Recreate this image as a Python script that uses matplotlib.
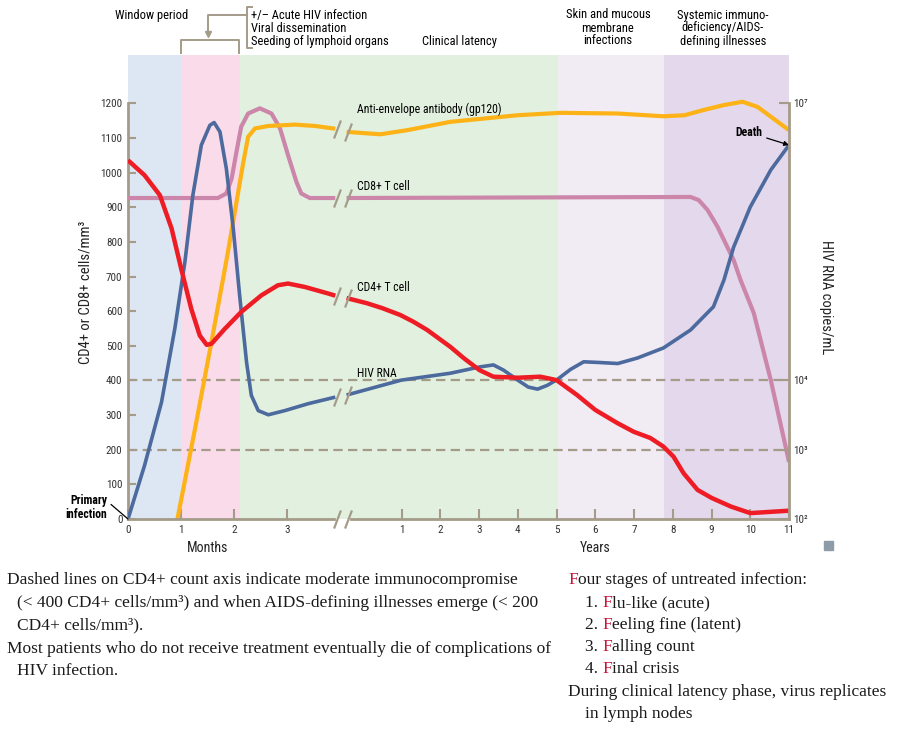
import numpy as np
import matplotlib
matplotlib.use("Agg")
import matplotlib.pyplot as plt
from matplotlib.patches import Rectangle
from matplotlib.lines import Line2D

W, H = 903, 732

# stage shading edges: first two in months, the rest in years
stage_months = [0, 1, 2.1]
stage_years = [5.03, 7.78, 11]
stage_colors = ["#dde6f3", "#f9dbea", "#e2f1df", "#f1ebf4", "#e3d8ec"]

# CD4+ T cell (cells/mm3)
cd4_m = [0, 0.31, 0.6, 0.82, 1.0, 1.19, 1.35, 1.48, 1.57, 1.82, 2.13, 2.51, 2.82, 3.01, 3.33, 3.77, 3.9]
cd4_m_val = [1036, 993, 935, 839, 723, 607, 530, 503, 506, 549, 598, 646, 675, 680, 670, 651, 645]
cd4_y = [-0.42, 0.11, 0.5, 0.97, 1.3, 1.66, 2.26, 2.6, 3.01, 3.37, 4.0, 4.58, 4.84, 5.0, 5.53, 6.0,
         6.57, 6.99, 7.42, 7.76, 8.02, 8.28, 8.64, 9.0, 9.5, 10.0, 11.0]
cd4_y_val = [638, 623, 609, 589, 570, 546, 497, 465, 430, 411, 408, 411, 405, 401, 358, 315,
             277, 252, 234, 209, 180, 132, 84, 61, 36, 17, 24]

# HIV RNA (drawn on the left scale)
rna_m = [0, 0.31, 0.63, 0.88, 1.07, 1.22, 1.38, 1.54, 1.62, 1.73, 1.85, 1.98, 2.1, 2.23, 2.32, 2.45, 2.64, 2.95, 3.39, 3.9]
rna_m_val = [0, 154, 337, 549, 742, 935, 1080, 1137, 1145, 1118, 1012, 839, 646, 453, 357, 313, 301, 313, 333, 352]
rna_y = [-0.42, 0.99, 2.26, 3.01, 3.37, 3.63, 4.0, 4.27, 4.51, 4.76, 5.02, 5.36, 5.7, 6.1, 6.58,
         7.09, 7.76, 8.46, 9.05, 9.32, 9.57, 10.0, 10.53, 11.0]
rna_y_val = [358, 401, 421, 439, 445, 430, 401, 381, 375, 386, 403, 432, 454, 452, 449,
             465, 494, 546, 613, 690, 785, 901, 1008, 1080]

# Anti-envelope antibody (gp120)
ab_m = [0.93, 1.26, 1.57, 1.88, 2.17, 2.26, 2.39, 2.64, 3.14, 3.52, 3.9]
ab_m_val = [0, 260, 511, 771, 1031, 1104, 1128, 1135, 1139, 1135, 1127]
ab_y = [-0.42, 0.45, 1.15, 2.26, 3.99, 5.1, 6.58, 7.76, 8.3, 8.79, 9.3, 9.8, 10.19, 11.0]
ab_y_val = [1118, 1111, 1123, 1147, 1166, 1173, 1171, 1163, 1166, 1181, 1195, 1205, 1190, 1123]

# CD8+ T cell
cd8_m = [0, 1.69, 1.85, 1.95, 2.04, 2.13, 2.26, 2.48, 2.7, 2.86, 3.01, 3.17, 3.26, 3.42, 3.9]
cd8_m_val = [927, 927, 940, 983, 1060, 1133, 1171, 1186, 1171, 1128, 1051, 973, 940, 927, 927]
cd8_y = [-0.42, 8.46, 8.67, 8.9, 9.16, 9.57, 9.75, 10.09, 10.53, 11.0]
cd8_y_val = [927, 930, 921, 892, 843, 748, 690, 595, 401, 165]

month_ticks = [0, 1, 2, 3]
year_ticks = list(range(1, 12))
left_ticks = list(range(0, 1300, 100))
dash_levels = [400, 200]
rna_tick_pos = [1200, 400, 200, 0]
rna_tick_labels = ["10\u2077", "10\u2074", "10\u00b3", "10\u00b2"]

# x scale: months on the left, years (compressed) after the break
YEAR0, YEAR_W = 4.418, 0.7288
BREAK_L, BREAK_R = 3.93, 4.14


def pos_m(m):
    return np.asarray(m, dtype=float)


def pos_y(y):
    return YEAR0 + YEAR_W * np.asarray(y, dtype=float)


def fx(px):
    return px / W


def fy(py):
    return 1 - py / H


taupe = "#a59b89"
SERIF = ["Liberation Serif", "DejaVu Serif"]
plt.rcParams["font.family"] = ["Roboto Condensed", "DejaVu Sans"]
plt.rcParams["font.stretch"] = "condensed"

fig = plt.figure(figsize=(W / 100, H / 100), dpi=100)
ax = fig.add_axes([fx(128), fy(519), fx(789) - fx(128), (519 - 55) / H])
xmax = float(pos_y(11))
ax.set_xlim(0, xmax)
ax.set_ylim(0, 1340)

# background stages
edges = list(pos_m(stage_months)) + list(pos_y(stage_years))
for i, c in enumerate(stage_colors):
    ax.axvspan(edges[i], edges[i + 1], color=c, lw=0, zorder=0)

for lvl in dash_levels:
    ax.axhline(lvl, color=taupe, lw=1.6, dashes=(4.2, 2.4), zorder=1)

slash = [(-0.38, -1), (0.38, 1)]
curves = [
    (cd8_m, cd8_m_val, cd8_y, cd8_y_val, "#cc86aa", 3.0),
    (ab_m, ab_m_val, ab_y, ab_y_val, "#fdb317", 3.0),
    (rna_m, rna_m_val, rna_y, rna_y_val, "#4c6a9d", 2.6),
    (cd4_m, cd4_m_val, cd4_y, cd4_y_val, "#ee1c25", 3.2),
]
for i, (xm, vm, xy, vy, col, lw) in enumerate(curves):
    ax.plot(pos_m(xm), vm, color=col, lw=lw, solid_capstyle="butt",
            solid_joinstyle="round", zorder=3 + i)
    ax.plot(pos_y(xy), vy, color=col, lw=lw, solid_capstyle="butt",
            solid_joinstyle="round", zorder=3 + i)
    ax.plot([BREAK_L, BREAK_R], [vm[-1], vy[0]], ls="none", marker=slash,
            ms=13, mec=taupe, mew=1.6, zorder=8)

# axes frame
for s in ["top", "bottom", "right"]:
    ax.spines[s].set_visible(False)
ax.spines["left"].set_bounds(0, 1200)
ax.spines["left"].set_color(taupe)
ax.spines["left"].set_linewidth(2)
ax.plot([0, BREAK_L - 0.05], [0, 0], color=taupe, lw=2, clip_on=False, zorder=9)
ax.plot([BREAK_R + 0.05, xmax], [0, 0], color=taupe, lw=2, clip_on=False, zorder=9)
ax.plot([BREAK_L, BREAK_R], [0, 0], ls="none", marker=slash, ms=13, mec=taupe,
        mew=1.6, clip_on=False, zorder=9)

ax.set_yticks(left_ticks)
ax.tick_params(axis="y", direction="in", length=6, width=1.5, color=taupe,
               labelsize=8, labelcolor="#333333", pad=4)
xt = list(pos_m(month_ticks)) + list(pos_y(year_ticks))
ax.set_xticks(xt)
ax.set_xticklabels([str(v) for v in month_ticks] + [str(v) for v in year_ticks])
ax.tick_params(axis="x", direction="in", length=7, width=1.5, color=taupe,
               labelsize=8, labelcolor="#333333", pad=4)

ax2 = ax.twinx()
ax2.set_ylim(ax.get_ylim())
for s in ["top", "bottom", "left"]:
    ax2.spines[s].set_visible(False)
ax2.spines["right"].set_bounds(0, 1200)
ax2.spines["right"].set_color(taupe)
ax2.spines["right"].set_linewidth(2)
ax2.set_yticks(rna_tick_pos)
ax2.set_yticklabels(rna_tick_labels)
ax2.tick_params(axis="y", direction="in", length=7, width=1.5, color=taupe,
                labelsize=8, labelcolor="#333333", pad=3)

# curve labels
lab_x = pos_y(-0.15)
ax.text(lab_x, 1184, "Anti-envelope antibody (gp120)", fontsize=8.5, va="center", zorder=10)
ax.text(lab_x, 959, "CD8+ T cell", fontsize=8.5, va="center", zorder=10)
ax.text(lab_x, 668, "CD4+ T cell", fontsize=8.5, va="center", zorder=10)
ax.text(lab_x, 420, "HIV RNA", fontsize=8.5, va="center", zorder=10)

ax.annotate("Death", xy=(xmax, rna_y_val[-1]), xytext=(-19, 9),
            textcoords="offset points", ha="right", va="center", fontsize=8.5,
            fontweight="bold", annotation_clip=False, zorder=10,
            arrowprops=dict(arrowstyle="-|>", color="black", lw=0.9,
                            mutation_scale=7, shrinkA=1, shrinkB=0))
ax.annotate("Primary\ninfection", xy=(0, 0), xytext=(-15, 8),
            textcoords="offset points", ha="right", va="center", fontsize=8.5,
            fontweight="bold", multialignment="right", annotation_clip=False,
            linespacing=1.1, zorder=10,
            arrowprops=dict(arrowstyle="-", color="black", lw=0.9,
                            relpos=(1, 0.75), shrinkA=1, shrinkB=0))

# axis titles
fig.text(fx(86), fy(292), "CD4+ or CD8+ cells/mm\u00b3", rotation=90, fontsize=10.5,
         ha="center", va="center", color="#222222")
fig.text(fx(826), fy(297), "HIV RNA copies/mL", rotation=270, fontsize=10.5,
         ha="center", va="center", color="#222222")
fig.text(fx(208), fy(548), "Months", fontsize=10, ha="center", va="center", color="#222222")
fig.text(fx(595), fy(548), "Years", fontsize=10, ha="center", va="center", color="#222222")

# top stage labels
fig.text(fx(152), fy(15), "Window period", fontsize=9, ha="center", va="center")
fig.text(fx(251), fy(28), "+/\u2013 Acute HIV infection\nViral dissemination\nSeeding of lymphoid organs",
         fontsize=9, ha="left", va="center", linespacing=1.0)
fig.text(fx(460), fy(42), "Clinical latency", fontsize=9, ha="center", va="center")
fig.text(fx(608), fy(28), "Skin and mucous\nmembrane\ninfections", fontsize=9,
         ha="center", va="center", linespacing=1.0)
fig.text(fx(723), fy(28), "Systemic immuno-\ndeficiency/AIDS-\ndefining illnesses", fontsize=9,
         ha="center", va="center", linespacing=1.0)

# brackets at the top
lk = dict(color=taupe, lw=1.4, transform=fig.transFigure)
fig.add_artist(Line2D([fx(181), fx(181), fx(239), fx(239)], [fy(53), fy(39.5), fy(39.5), fy(53)], **lk))
fig.add_artist(Line2D([fx(252), fx(247), fx(247), fx(252)], [fy(7), fy(7), fy(48), fy(48)], **lk))
fig.add_artist(Line2D([fx(247), fx(208), fx(208)], [fy(15), fy(15), fy(33)], **lk))
fig.add_artist(Line2D([fx(208)], [fy(34)], marker="v", ms=4, color=taupe, transform=fig.transFigure))

# small icon
fig.add_artist(Rectangle((fx(824), fy(550)), 9 / W, 9 / H, color="#8e9ba8",
                         transform=fig.transFigure))

# notes below the chart
tbg = fig.add_axes([0, 0, 1, 1], zorder=-1)
tbg.axis("off")
tbg.set_xlim(0, W)
tbg.set_ylim(H, 0)
fs = 12.5
red = "#c8143c"
left_notes = [
    (7, 578, "Dashed lines on CD4+ count axis indicate moderate immunocompromise"),
    (17, 601, "(< 400 CD4+ cells/mm\u00b3) and when AIDS-defining illnesses emerge (< 200"),
    (17, 623, "CD4+ cells/mm\u00b3)."),
    (7, 647, "Most patients who do not receive treatment eventually die of complications of"),
    (17, 669, "HIV infection."),
]
for x, y, s in left_notes:
    tbg.text(x, y, s, fontsize=fs, family=SERIF, stretch="normal",
             va="center_baseline", color="#1a1a1a")


def red_first(x, y, prefix, word):
    t = tbg.text(x, y, prefix, fontsize=fs, family=SERIF, stretch="normal",
                 va="center_baseline", color="#1a1a1a")
    f = tbg.annotate(word[0], xy=(1, y), xycoords=(t, "data"), fontsize=fs, family=SERIF,
                     stretch="normal", va="center_baseline", ha="left", color=red)
    tbg.annotate(word[1:], xy=(1, y), xycoords=(f, "data"), fontsize=fs, family=SERIF,
                 stretch="normal", va="center_baseline", ha="left", color="#1a1a1a")


red_first(568, 578, "", "Four stages of untreated infection:")
red_first(585, 601, "1. ", "Flu-like (acute)")
red_first(585, 623, "2. ", "Feeling fine (latent)")
red_first(585, 645, "3. ", "Falling count")
red_first(585, 667, "4. ", "Final crisis")
tbg.text(568, 690, "During clinical latency phase, virus replicates", fontsize=fs,
         family=SERIF, stretch="normal", va="center_baseline", color="#1a1a1a")
tbg.text(585, 712, "in lymph nodes", fontsize=fs, family=SERIF, stretch="normal",
         va="center_baseline", color="#1a1a1a")

fig.savefig("out.png", dpi=100)
